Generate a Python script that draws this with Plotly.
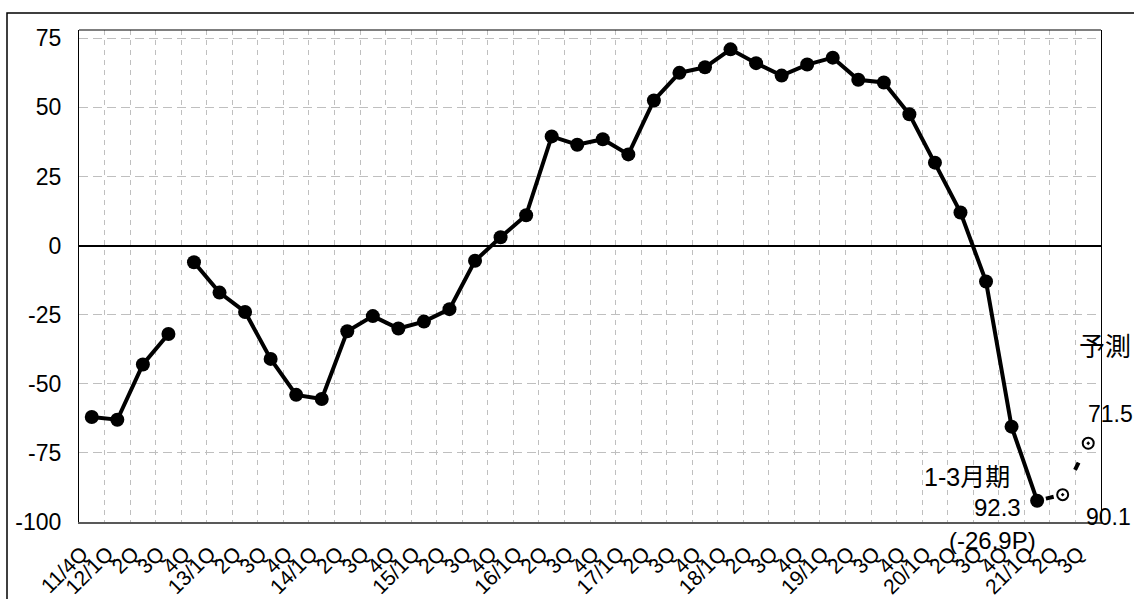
import plotly.graph_objects as go

# ---- data ----
categories = ["11/4Q",
              "12/1Q", "2Q", "3Q", "4Q",
              "13/1Q", "2Q", "3Q", "4Q",
              "14/1Q", "2Q", "3Q", "4Q",
              "15/1Q", "2Q", "3Q", "4Q",
              "16/1Q", "2Q", "3Q", "4Q",
              "17/1Q", "2Q", "3Q", "4Q",
              "18/1Q", "2Q", "3Q", "4Q",
              "19/1Q", "2Q", "3Q", "4Q",
              "20/1Q", "2Q", "3Q", "4Q",
              "21/1Q", "2Q", "3Q"]

# old series 11/4Q - 12/3Q
series_old = [-62, -63, -43, -32]
# current series 12/4Q - 21/1Q
series_new = [-6, -17, -24, -41, -54, -55.5, -31, -25.5, -30, -27.5, -23, -5.5,
              3, 11, 39.5, 36.5, 38.5, 33, 52.5, 62.5, 64.5, 71, 66, 61.5,
              65.5, 68, 60, 59, 47.5, 30, 12, -13, -65.5, -92.3]
# forecast 21/1Q (actual) - 21/3Q
series_fcst = [-92.3, -90.1, -71.5]

y_ticks = [-100, -75, -50, -25, 0, 25, 50, 75]

idx = list(range(len(categories)))
x_old = idx[0:4]
x_new = idx[4:38]
x_fcst = idx[37:40]

FONT = "Liberation Sans, Arial, Noto Sans CJK JP, sans-serif"

fig = go.Figure()
fig.add_trace(go.Scatter(x=x_old, y=series_old, mode="lines+markers",
                         line=dict(color="black", width=4),
                         marker=dict(color="black", size=14),
                         showlegend=False))
fig.add_trace(go.Scatter(x=x_new, y=series_new, mode="lines+markers",
                         line=dict(color="black", width=4),
                         marker=dict(color="black", size=14),
                         showlegend=False))
fig.add_trace(go.Scatter(x=x_fcst, y=series_fcst, mode="lines",
                         line=dict(color="black", width=4, dash="0px,9px,8px,28px"),
                         showlegend=False))
fig.add_trace(go.Scatter(x=x_fcst[1:], y=series_fcst[1:], mode="markers",
                         marker=dict(symbol="circle-open-dot", color="black", size=11,
                                     line=dict(width=2, color="black")),
                         showlegend=False))

# plot area geometry (pixels) for annotation placement
L, R, T, B = 79, 1101, 30, 522
W, H = R - L, B - T


def px(xp, yp):
    return (xp - L) / W, (B - yp) / H


annots = [
    ("予測", 1105, 347, 26),
    (f"{abs(series_fcst[2]):.1f}", 1110, 414, 23),
    ("1-3月期", 967, 477, 25),
    (f"{abs(series_fcst[0]):.1f}", 997, 507, 24),
    ("(-26.9P)", 992, 540, 24),
    (f"{abs(series_fcst[1]):.1f}", 1108, 517, 23),
]
for text, ax_, ay_, fs in annots:
    xx, yy = px(ax_, ay_)
    fig.add_annotation(text=text, x=xx, y=yy, xref="paper", yref="paper",
                       xanchor="center", yanchor="middle", showarrow=False,
                       font=dict(size=fs, color="black", family=FONT))

# top border of plot area and outer frame
fig.add_shape(type="line", xref="paper", yref="paper", x0=0, x1=1, y0=1, y1=1,
              line=dict(color="black", width=1.2))
fx0, fy1 = px(7, 13)
fig.add_shape(type="rect", xref="paper", yref="paper", x0=fx0, x1=1.3, y0=-0.6, y1=fy1,
              line=dict(color="black", width=1.5))

fig.update_layout(
    width=1134, height=599,
    margin=dict(l=L, r=1134 - R, t=T, b=599 - B, autoexpand=False),
    paper_bgcolor="white", plot_bgcolor="white",
    font=dict(family=FONT, color="black"),
    xaxis=dict(range=[-0.5, len(categories) - 0.5], automargin=False,
               tickmode="array", tickvals=idx, ticktext=categories,
               tickangle=-45, tickfont=dict(size=21, color="black"),
               ticklabelshift=-10, ticklabelstandoff=9,
               showgrid=False, zeroline=False, ticks="",
               showline=True, linecolor="#595959", linewidth=2,
               minor=dict(tick0=0.5, dtick=1, showgrid=True, gridcolor="#bfbfbf",
                          gridwidth=1, griddash="5px,5px", ticks="")),
    yaxis=dict(range=[-100, 78], tickmode="array", tickvals=y_ticks, automargin=False,
               ticktext=[str(v) for v in y_ticks],
               tickfont=dict(size=23, color="black"),
               showgrid=True, gridcolor="#bfbfbf", gridwidth=1, griddash="9px,5px",
               zeroline=True, zerolinecolor="black", zerolinewidth=1.5,
               showline=True, linecolor="black", linewidth=1.2, mirror=True,
               ticks="", ticklabelstandoff=12),
)

fig.write_html("out.html", config={"displayModeBar": False},
               post_script="document.body.style.margin='0px';document.body.style.overflow='hidden';")
